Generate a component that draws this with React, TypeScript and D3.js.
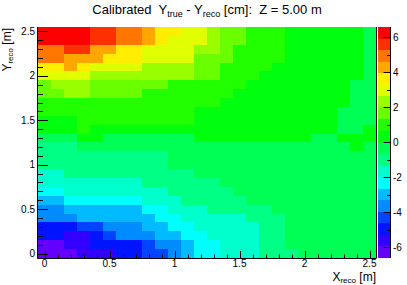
import React from 'react';
import * as d3 from 'd3';

// bin centres (m)
const xCenters = [0, 0.1, 0.2, 0.3, 0.4, 0.5, 0.6, 0.7, 0.8, 0.9, 1.0, 1.1, 1.2, 1.3, 1.4, 1.5, 1.6, 1.7, 1.8, 1.9, 2.0, 2.1, 2.2, 2.3, 2.4, 2.5];
// rows listed from top (y = 2.5) to bottom (y = 0)
const yCenters = [2.5, 2.4, 2.3, 2.2, 2.1, 2.0, 1.9, 1.8, 1.7, 1.6, 1.5, 1.4, 1.3, 1.2, 1.1, 1.0, 0.9, 0.8, 0.7, 0.6, 0.5, 0.4, 0.3, 0.2, 0.1, 0];

const xTickValues = [0, 0.5, 1, 1.5, 2, 2.5];
const yTickValues = [0, 0.5, 1, 1.5, 2, 2.5];
const zTickValues = [-6, -4, -2, 0, 2, 4, 6];
const zRange: [number, number] = [-6.63, 6.6];
const nContours = 20;

// Y_true - Y_reco [cm], one row per yCenters entry
const zRows: number[][] = [
  [6.3, 6.3, 6.3, 6.3, 5.6, 5.6, 5.0, 5.0, 4.3, 3.6, 3.6, 3.0, 3.0, 2.3, 1.6, 1.6, 1.0, 1.0, 1.0, 0.3, 0.3, 0.3, 0.3, 0.3, 0.3, -0.3],
  [6.3, 6.3, 6.3, 6.3, 5.6, 5.6, 5.0, 5.0, 4.3, 3.6, 3.0, 3.0, 3.0, 2.3, 1.6, 1.6, 1.0, 1.0, 1.0, 0.3, 0.3, 0.3, 0.3, 0.3, 0.3, -0.3],
  [5.0, 5.0, 5.6, 5.6, 4.3, 4.3, 3.6, 3.6, 3.0, 3.0, 3.0, 3.0, 2.3, 2.3, 1.6, 1.0, 1.0, 1.0, 1.0, 0.3, 0.3, 0.3, 0.3, 0.3, 0.3, -0.3],
  [5.0, 5.0, 4.3, 4.3, 4.3, 3.6, 3.6, 3.6, 3.0, 3.0, 3.0, 3.0, 1.6, 1.6, 1.6, 1.0, 1.0, 1.0, 1.0, 0.3, 0.3, 0.3, 0.3, 0.3, 0.3, -0.3],
  [3.6, 3.6, 4.3, 3.6, 3.0, 3.0, 3.0, 3.0, 2.3, 2.3, 2.3, 2.3, 1.6, 1.6, 1.0, 1.0, 1.0, 1.0, 0.3, 0.3, 0.3, 0.3, 0.3, 0.3, 0.3, -0.3],
  [3.0, 3.0, 3.0, 3.0, 2.3, 2.3, 2.3, 2.3, 2.3, 2.3, 2.3, 2.3, 1.6, 1.6, 1.0, 1.0, 1.0, 0.3, 0.3, 0.3, 0.3, 0.3, 0.3, 0.3, 0.3, -0.3],
  [1.6, 2.3, 2.3, 2.3, 1.6, 1.6, 1.6, 1.6, 1.6, 1.6, 1.0, 1.0, 1.0, 1.0, 1.0, 1.0, 0.3, 0.3, 0.3, 0.3, 0.3, 0.3, 0.3, 0.3, -0.3, -0.3],
  [1.6, 1.6, 2.3, 2.3, 1.6, 1.6, 1.6, 1.6, 1.0, 1.0, 1.0, 1.0, 1.0, 1.0, 1.0, 0.3, 0.3, 0.3, 0.3, 0.3, 0.3, 0.3, 0.3, 0.3, -0.3, -0.3],
  [1.0, 1.0, 1.0, 1.0, 1.0, 1.0, 1.0, 1.0, 1.0, 1.0, 1.0, 1.0, 1.0, 1.0, 0.3, 0.3, 0.3, 0.3, 0.3, 0.3, 0.3, 0.3, 0.3, 0.3, -0.3, -0.3],
  [1.0, 1.0, 1.0, 1.0, 1.0, 1.0, 1.0, 1.0, 1.0, 1.0, 1.0, 1.0, 0.3, 0.3, 0.3, 0.3, 0.3, 0.3, 0.3, 0.3, 0.3, 0.3, 0.3, -0.3, -0.3, -0.3],
  [0.3, 0.3, 0.3, 1.0, 1.0, 1.0, 1.0, 1.0, 1.0, 1.0, 1.0, 1.0, 0.3, 0.3, 0.3, 0.3, 0.3, 0.3, 0.3, 0.3, 0.3, 0.3, 0.3, -0.3, -0.3, -0.3],
  [0.3, 0.3, 0.3, 1.0, 0.3, 0.3, 0.3, 0.3, 0.3, 0.3, 0.3, 0.3, 0.3, 0.3, 0.3, 0.3, 0.3, 0.3, 0.3, 0.3, 0.3, 0.3, 0.3, -0.3, -0.3, 0.3],
  [-0.3, -0.3, -0.3, 0.3, 0.3, -0.3, -0.3, -0.3, -0.3, -0.3, -0.3, -0.3, 0.3, 0.3, 0.3, 0.3, 0.3, 0.3, 0.3, 0.3, 0.3, -0.3, -0.3, 0.3, 0.3, 0.3],
  [-1.0, -1.0, -1.0, -0.3, -0.3, -0.3, -0.3, -0.3, -0.3, -0.3, -0.3, -0.3, -0.3, -0.3, -0.3, -0.3, -0.3, -0.3, -0.3, -0.3, -0.3, -0.3, -0.3, -0.3, 0.3, -0.3],
  [-1.0, -1.0, -1.0, -1.0, -1.0, -1.0, -1.0, -1.0, -1.0, -1.0, -0.3, -0.3, -0.3, -0.3, -0.3, -0.3, -0.3, -0.3, -0.3, -0.3, -0.3, -0.3, -0.3, -0.3, -0.3, -0.3],
  [-1.0, -1.0, -1.0, -1.0, -1.0, -1.0, -1.0, -1.0, -1.0, -1.0, -0.3, -0.3, -0.3, -0.3, -0.3, -0.3, -0.3, -0.3, -0.3, -0.3, -0.3, -0.3, -0.3, -0.3, -0.3, -0.3],
  [-1.7, -1.7, -1.0, -1.0, -1.0, -1.0, -1.0, -1.0, -1.0, -1.0, -1.0, -1.0, -0.3, -0.3, -0.3, -0.3, -0.3, -0.3, -0.3, -0.3, -0.3, -0.3, -0.3, -0.3, -0.3, -0.3],
  [-1.7, -1.7, -1.7, -1.7, -1.7, -1.7, -1.7, -1.7, -1.0, -1.0, -1.0, -1.0, -1.0, -1.0, -0.3, -0.3, -0.3, -0.3, -0.3, -0.3, -0.3, -0.3, -0.3, -0.3, -0.3, -0.3],
  [-2.3, -2.3, -1.7, -1.7, -1.7, -1.7, -1.7, -1.7, -1.7, -1.7, -1.0, -1.0, -1.0, -1.0, -1.0, -0.3, -0.3, -0.3, -0.3, -0.3, -0.3, -0.3, -0.3, -0.3, -0.3, -0.3],
  [-3.0, -3.0, -2.3, -2.3, -2.3, -2.3, -2.3, -2.3, -1.7, -1.7, -1.7, -1.0, -1.0, -1.0, -1.0, -1.0, -0.3, -0.3, -0.3, -0.3, -0.3, -0.3, -0.3, -0.3, -0.3, -0.3],
  [-3.6, -3.6, -3.0, -3.0, -3.0, -3.0, -3.0, -3.0, -2.3, -2.3, -1.7, -1.7, -1.7, -1.0, -1.0, -1.0, -1.0, -1.0, -0.3, -0.3, -0.3, -0.3, -0.3, -0.3, -0.3, -0.3],
  [-3.6, -3.6, -3.6, -3.0, -3.0, -3.0, -3.0, -3.0, -3.0, -2.3, -2.3, -1.7, -1.7, -1.7, -1.7, -1.7, -1.0, -1.0, -1.0, -0.3, -0.3, -0.3, -0.3, -0.3, -0.3, -0.3],
  [-5.0, -5.0, -5.0, -4.3, -4.3, -3.6, -3.6, -3.6, -3.0, -3.0, -2.3, -2.3, -1.7, -1.7, -1.7, -1.7, -1.7, -1.0, -1.0, -0.3, -0.3, -0.3, -0.3, -0.3, -0.3, -0.3],
  [-5.0, -5.0, -5.6, -5.6, -5.0, -4.3, -3.6, -3.6, -3.6, -3.0, -3.0, -2.3, -2.3, -1.7, -1.7, -1.7, -1.7, -1.0, -1.0, -0.3, -0.3, -0.3, -0.3, -0.3, -0.3, -0.3],
  [-6.3, -6.3, -5.6, -5.6, -5.0, -5.0, -5.0, -5.0, -4.3, -3.6, -3.6, -3.0, -2.3, -2.3, -1.7, -1.7, -1.7, -1.0, -1.0, -0.3, -0.3, -0.3, -0.3, -0.3, -0.3, -0.3],
  [-6.3, -6.3, -6.3, -5.6, -5.6, -5.6, -5.0, -5.0, -4.3, -4.3, -3.6, -3.0, -2.3, -2.3, -1.7, -1.7, -1.7, -1.0, -1.0, -1.0, -0.3, -0.3, -0.3, -0.3, -0.3, -0.3],
];

const FONT = '"Liberation Sans", Arial, Helvetica, sans-serif';

export default function App() {
  const W = 407, H = 285;
  const L = 38, R = 376, T = 27, B = 258;
  const binHalf = 0.05;
  const x = d3.scaleLinear().domain([-0.05, 2.55]).range([L, R]);
  const y = d3.scaleLinear().domain([-0.05, 2.55]).range([B, T]);

  // ROOT "pretty" palette (50 colours, hue 280 -> 0), sampled for 20 contours
  const palette = d3.range(nContours).map((k) => {
    const idx = Math.floor(((k + 0.99) * 50) / nContours);
    const hue = idx >= 49 ? 0 : 280 - (idx + 1) * 5.6;
    return d3.hsl(hue, 1, 0.5).formatHex();
  });
  const color = d3.scaleQuantize<string>().domain(zRange).range(palette);

  const CBL = 378, CBR = 390.5;
  const z = d3.scaleLinear().domain(zRange).range([B, T]);
  const zStep = (zRange[1] - zRange[0]) / nContours;
  const zLevels = d3.range(nContours).map((k) => zRange[0] + k * zStep);

  const minorX = d3.range(0, 2.5501, 0.1);
  const minorY = d3.range(0, 2.5501, 0.1);
  const minorZ = d3.range(-6, 6.01, 1);

  const cells: React.ReactNode[] = [];
  zRows.forEach((row, ri) => {
    const yc = yCenters[ri];
    row.forEach((v, ci) => {
      const xc = xCenters[ci];
      const x0 = Math.round(x(xc - binHalf));
      const x1 = Math.round(x(xc + binHalf));
      const y0 = Math.round(y(yc + binHalf));
      const y1 = Math.round(y(yc - binHalf));
      cells.push(
        <rect key={`c${ri}-${ci}`} x={x0} y={y0} width={x1 - x0} height={y1 - y0} fill={color(v)} />
      );
    });
  });

  const fmt = (v: number) => String(v);

  return (
    <svg
      width={W}
      height={H}
      viewBox={`0 0 ${W} ${H}`}
      style={{ position: 'absolute', left: 0, top: 0, background: '#fff' }}
      fontFamily={FONT}
    >
      <rect x={0} y={0} width={W} height={H} fill="#fff" />
      <g shapeRendering="crispEdges">{cells}</g>

      {/* palette */}
      <g shapeRendering="crispEdges">
        {zLevels.map((lv, k) => {
          const y0 = Math.round(z(lv + zStep));
          const y1 = Math.round(z(lv));
          return <rect key={`p${k}`} x={CBL} y={y0} width={CBR - CBL} height={y1 - y0} fill={palette[k]} />;
        })}
      </g>
      <g stroke="#000" strokeWidth={1}>
        {zTickValues.map((v) => (
          <line key={`zt${v}`} x1={CBR} x2={CBR - 7} y1={Math.round(z(v)) + 0.5} y2={Math.round(z(v)) + 0.5} />
        ))}
        {minorZ.map((v) => (
          <line key={`zm${v}`} x1={CBR} x2={CBR - 3.5} y1={Math.round(z(v)) + 0.5} y2={Math.round(z(v)) + 0.5} />
        ))}
        <line x1={CBR} x2={CBR} y1={T} y2={B} />
      </g>
      <g fontSize={10} fill="#000">
        {zTickValues.map((v) => (
          <text key={`zl${v}`} x={CBR + 2.5} y={z(v)} dy="0.35em">
            {fmt(v)}
          </text>
        ))}
      </g>

      {/* frame */}
      <g stroke="#000" strokeWidth={1} fill="none">
        <line x1={L - 0.5} x2={L - 0.5} y1={T} y2={B + 0.5} />
        <line x1={L - 0.5} x2={R} y1={B + 0.5} y2={B + 0.5} />
        <line x1={R + 0.5} x2={R + 0.5} y1={T} y2={B + 0.5} />
      </g>

      {/* axis ticks */}
      <g stroke="#000" strokeWidth={1}>
        {minorX.map((v) => {
          const major = xTickValues.some((t) => Math.abs(t - v) < 1e-6);
          const px = Math.round(x(v)) + 0.5;
          return <line key={`xt${v}`} x1={px} x2={px} y1={B} y2={B - (major ? 7 : 3.5)} />;
        })}
        {minorY.map((v) => {
          const major = yTickValues.some((t) => Math.abs(t - v) < 1e-6);
          const py = Math.round(y(v)) + 0.5;
          return <line key={`yt${v}`} x1={L} x2={L + (major ? 10 : 5)} y1={py} y2={py} />;
        })}
      </g>

      <g fontSize={10} fill="#000">
        {xTickValues.map((v) => (
          <text key={`xl${v}`} x={x(v)} y={267} textAnchor="middle">
            {fmt(v)}
          </text>
        ))}
        {yTickValues.map((v) => (
          <text key={`yl${v}`} x={35} y={y(v)} dy="0.35em" textAnchor="end">
            {fmt(v)}
          </text>
        ))}
      </g>

      {/* axis titles */}
      <text x={R} y={281} fontSize={12} textAnchor="end" fill="#000">
        X<tspan fontSize={8} dy={2}>reco</tspan>
        <tspan dy={-2}> [m]</tspan>
      </text>
      <text transform={`translate(10.5,${T + 1}) rotate(-90)`} fontSize={12} textAnchor="end" fill="#000">
        Y<tspan fontSize={8} dy={2}>reco</tspan>
        <tspan dy={-2}> [m]</tspan>
      </text>

      {/* title */}
      <text x={207} y={14} fontSize={13} textAnchor="middle" fill="#000" style={{ whiteSpace: 'pre' }}>
        {'Calibrated  Y'}
        <tspan fontSize={9} dy={2.5}>true</tspan>
        <tspan dy={-2.5}>{' - Y'}</tspan>
        <tspan fontSize={9} dy={2.5}>reco</tspan>
        <tspan dy={-2.5}>{' [cm]:  Z = 5.00 m'}</tspan>
      </text>
    </svg>
  );
}
